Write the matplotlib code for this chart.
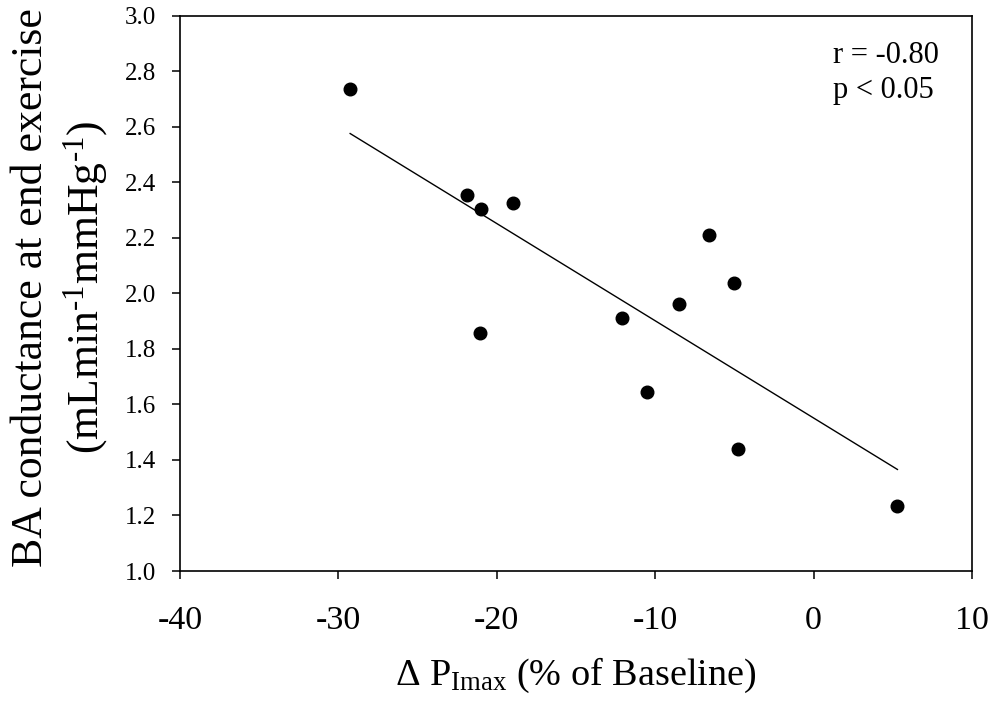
import numpy as np
import matplotlib
matplotlib.use("Agg")
import matplotlib.pyplot as plt

plt.rcParams['font.family'] = ['Liberation Serif', 'DejaVu Serif']
plt.rcParams['mathtext.fontset'] = 'custom'
plt.rcParams['mathtext.rm'] = 'Liberation Serif'
plt.rcParams['mathtext.it'] = 'Liberation Serif:italic'
plt.rcParams['mathtext.default'] = 'regular'

# change in inspiratory muscle strength vs brachial artery conductance
delta_pimax = [-29.26, -21.88, -20.97, -18.99, -21.04, -12.13,
               -10.53, -8.52, -6.60, -5.05, -4.75, 5.29]
ba_conductance = [2.736, 2.356, 2.305, 2.326, 1.856, 1.910,
                  1.645, 1.960, 2.212, 2.039, 1.441, 1.234]

x_ticks = [-40, -30, -20, -10, 0, 10]
y_ticks = [1.0, 1.2, 1.4, 1.6, 1.8, 2.0, 2.2, 2.4, 2.6, 2.8, 3.0]

fig = plt.figure(figsize=(9.93, 7.02), dpi=100)
ax = fig.add_axes([0.1813, 0.1866, 0.7976, 0.7910])

ax.scatter(delta_pimax, ba_conductance, s=82, color='black', zorder=3)

# least squares fit over the range of the data
slope, intercept = np.polyfit(delta_pimax, ba_conductance, 1)
fit_x = np.array([min(delta_pimax), max(delta_pimax)])
ax.plot(fit_x, slope * fit_x + intercept, color='black', lw=1.0)

ax.set_xlim(-40, 10)
ax.set_ylim(1.0, 3.0)
ax.set_xticks(x_ticks)
ax.set_yticks(y_ticks)
ax.set_xticklabels([str(t) for t in x_ticks], fontsize=24.5)
ax.set_yticklabels([f"{t:.1f}" for t in y_ticks], fontsize=18)
ax.tick_params(direction='out', length=5.5, width=1.1)
ax.tick_params(axis='x', pad=19)
ax.tick_params(axis='y', pad=11.5)
for sp in ax.spines.values():
    sp.set_linewidth(1.2)

ax.text(1.2, 2.858, "r = -0.80", fontsize=22, va='center', ha='left')
ax.text(1.2, 2.732, "p < 0.05", fontsize=22, va='center', ha='left')

ax.set_xlabel(r"Δ P$_{Imax}$ (% of Baseline)", fontsize=27.5)
ax.xaxis.set_label_coords(0.5, -0.152)
ax.xaxis.label.set_va('top')
ax.set_ylabel("BA conductance at end exercise\n"
              r"(mLmin$^{\text{-1}}$mmHg$^{\text{-1}}$)", fontsize=31.5,
              linespacing=1.3)
ax.yaxis.set_label_coords(-0.088, 0.51)

fig.savefig("out.png", dpi=100)
